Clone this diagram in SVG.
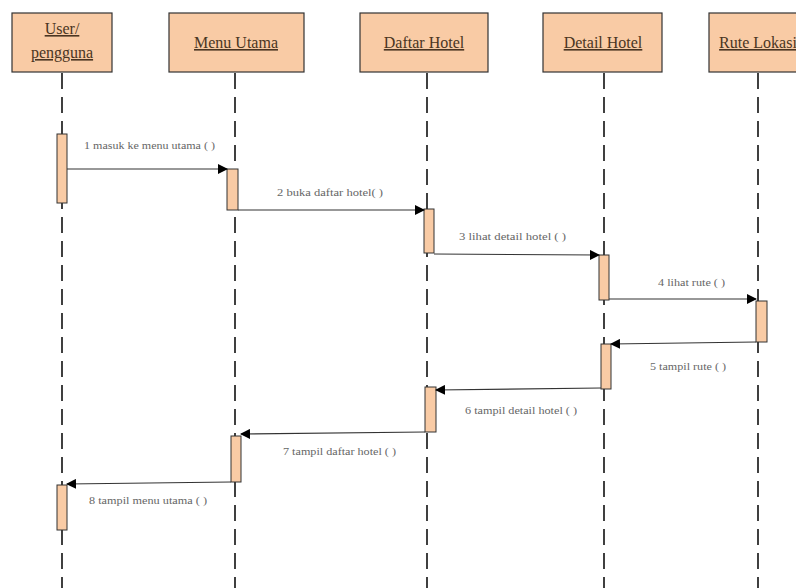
<svg xmlns="http://www.w3.org/2000/svg" width="796" height="588" viewBox="0 0 796 588">
<defs>
<style>
.head{fill:#F9CBA5;stroke:#333;stroke-width:1.2}
.ht{font-family:"Liberation Serif",serif;font-size:16px;fill:#4a3522;text-decoration:underline;text-anchor:middle}
.life{stroke:#111;stroke-width:1.6;stroke-dasharray:16 8;fill:none}
.act{fill:#F9CBA5;stroke:#333;stroke-width:1}
.msg{stroke:#333;stroke-width:1.1;fill:none}
.lbl{font-family:"Liberation Serif",serif;font-size:10px;fill:#666}
</style>
<marker id="ah" markerWidth="10" markerHeight="10" refX="9" refY="5" orient="auto" markerUnits="userSpaceOnUse">
<path d="M0,0 L10,5 L0,10 Z" fill="#000"/>
</marker>
</defs>
<rect width="796" height="588" fill="#fff"/>
<g id="lifelines">
<line class="life" x1="62" y1="73" x2="62" y2="588"/>
<line class="life" x1="235" y1="73" x2="235" y2="588"/>
<line class="life" x1="427" y1="73" x2="427" y2="588"/>
<line class="life" x1="604" y1="73" x2="604" y2="588"/>
<line class="life" x1="758" y1="73" x2="758" y2="588"/>
</g>
<g id="user">
<rect class="head" x="12" y="13" width="100" height="59"/>
<text class="ht" x="62" y="34">User/</text>
<text class="ht" x="62" y="58">pengguna</text>
</g>
<g id="menu-utama">
<rect class="head" x="169" y="13" width="135" height="59"/>
<text class="ht" x="236" y="48">Menu Utama</text>
</g>
<g id="daftar-hotel">
<rect class="head" x="360" y="13" width="128" height="59"/>
<text class="ht" x="424" y="48">Daftar Hotel</text>
</g>
<g id="detail-hotel">
<rect class="head" x="543" y="13" width="119" height="59"/>
<text class="ht" x="603" y="48">Detail Hotel</text>
</g>
<g id="rute-lokasi">
<rect class="head" x="709" y="13" width="98" height="59"/>
<text class="ht" x="758" y="48">Rute Lokasi</text>
</g>
<g id="activations">
<rect class="act" x="57" y="134" width="10" height="69"/>
<rect class="act" x="227" y="169" width="11" height="41"/>
<rect class="act" x="424" y="209" width="10" height="44"/>
<rect class="act" x="599" y="255" width="10" height="45"/>
<rect class="act" x="756" y="301" width="11" height="41"/>
<rect class="act" x="601" y="344" width="10" height="45"/>
<rect class="act" x="425" y="387" width="11" height="45"/>
<rect class="act" x="231" y="436" width="10" height="46"/>
<rect class="act" x="57" y="485" width="10" height="45"/>
</g>
<g id="connectors">
<line class="msg" x1="67" y1="169" x2="227" y2="169" marker-end="url(#ah)"/>
<line class="msg" x1="238" y1="210" x2="424" y2="210" marker-end="url(#ah)"/>
<line class="msg" x1="434" y1="254" x2="599" y2="255" marker-end="url(#ah)"/>
<line class="msg" x1="609" y1="299" x2="756" y2="299" marker-end="url(#ah)"/>
<line class="msg" x1="756" y1="342" x2="611" y2="344" marker-end="url(#ah)"/>
<line class="msg" x1="601" y1="388" x2="436" y2="390" marker-end="url(#ah)"/>
<line class="msg" x1="425" y1="432" x2="241" y2="434" marker-end="url(#ah)"/>
<line class="msg" x1="231" y1="482" x2="67" y2="484" marker-end="url(#ah)"/>
</g>
<g id="labels">
<text class="lbl" x="84" y="149" textLength="131" lengthAdjust="spacingAndGlyphs">1  masuk ke menu utama ( )</text>
<text class="lbl" x="277" y="196" textLength="106" lengthAdjust="spacingAndGlyphs">2  buka daftar hotel( )</text>
<text class="lbl" x="459" y="240" textLength="107" lengthAdjust="spacingAndGlyphs">3  lihat detail hotel ( )</text>
<text class="lbl" x="658" y="286" textLength="67" lengthAdjust="spacingAndGlyphs">4  lihat rute ( )</text>
<text class="lbl" x="650" y="370" textLength="76" lengthAdjust="spacingAndGlyphs">5  tampil rute ( )</text>
<text class="lbl" x="465" y="414" textLength="112" lengthAdjust="spacingAndGlyphs">6  tampil detail hotel ( )</text>
<text class="lbl" x="283" y="455" textLength="113" lengthAdjust="spacingAndGlyphs">7  tampil daftar hotel ( )</text>
<text class="lbl" x="89" y="504" textLength="118" lengthAdjust="spacingAndGlyphs">8  tampil menu utama ( )</text>
</g>
</svg>
